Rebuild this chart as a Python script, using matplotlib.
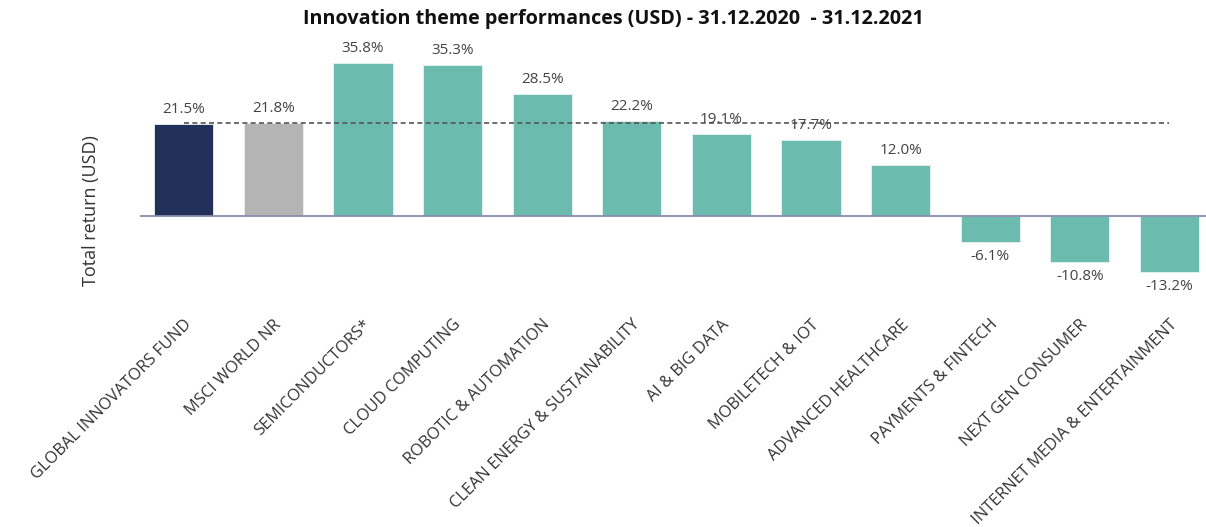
import numpy as np
import matplotlib
matplotlib.use('Agg')
import matplotlib.pyplot as plt

categories = [
    'GLOBAL INNOVATORS FUND', 'MSCI WORLD NR', 'SEMICONDUCTORS*', 'CLOUD COMPUTING',
    'ROBOTIC & AUTOMATION', 'CLEAN ENERGY & SUSTAINABILITY', 'AI & BIG DATA',
    'MOBILETECH & IOT', 'ADVANCED HEALTHCARE', 'PAYMENTS & FINTECH',
    'NEXT GEN CONSUMER', 'INTERNET MEDIA & ENTERTAINMENT',
]
returns = [21.5, 21.8, 35.8, 35.3, 28.5, 22.2, 19.1, 17.7, 12.0, -6.1, -10.8, -13.2]
benchmark = 21.8

NAVY = '#22305A'
GREY = '#B4B4B4'
TEAL = '#6BBBAE'
colors = [NAVY, GREY] + [TEAL] * (len(categories) - 2)

plt.rcParams['font.family'] = ['Open Sans', 'DejaVu Sans']

fig = plt.figure(figsize=(12.06, 5.27), dpi=100)
ax = fig.add_axes([140 / 1206, 1 - 300 / 527, 1 - 140 / 1206, 260 / 527])

x = np.arange(len(categories))
ax.bar(x, returns, width=0.66, color=colors, edgecolor='#E8F4F1', linewidth=0.6, zorder=2)
ax.axhline(0, color='#8A8DAE', linewidth=1.3, zorder=3)
ax.plot([x[0], x[-1]], [benchmark, benchmark], linestyle=(0, (3, 2)),
        color='#555555', linewidth=1.2, zorder=4)

for xi, v in zip(x, returns):
    if v >= 0:
        ax.annotate(f'{v:.1f}%', (xi, v), xytext=(0, 5), textcoords='offset points',
                    ha='center', va='bottom', fontsize=11, color='#444444', zorder=5)
    else:
        ax.annotate(f'{v:.1f}%', (xi, v), xytext=(0, -5), textcoords='offset points',
                    ha='center', va='top', fontsize=11, color='#444444', zorder=5)

ax.set_xlim(-0.49, 11.41)
ax.set_ylim(-19.7, 41.2)
ax.set_xticks(x)
ax.set_xticklabels(categories, rotation=45, ha='right', rotation_mode='anchor',
                   fontsize=11.8, color='#333333')
ax.tick_params(axis='x', length=0, pad=12)
ax.set_yticks([])
for s in ax.spines.values():
    s.set_visible(False)

fig.text(91 / 1206, 1 - 211 / 527, 'Total return (USD)', rotation=90, ha='center', va='center',
         fontsize=13, color='#333333')
fig.text(613 / 1206, 1 - 19 / 527, 'Innovation theme performances (USD) - 31.12.2020  - 31.12.2021',
         ha='center', va='center', fontsize=14.2, fontweight='bold', color='#111111')

fig.savefig('out.png', dpi=100)
